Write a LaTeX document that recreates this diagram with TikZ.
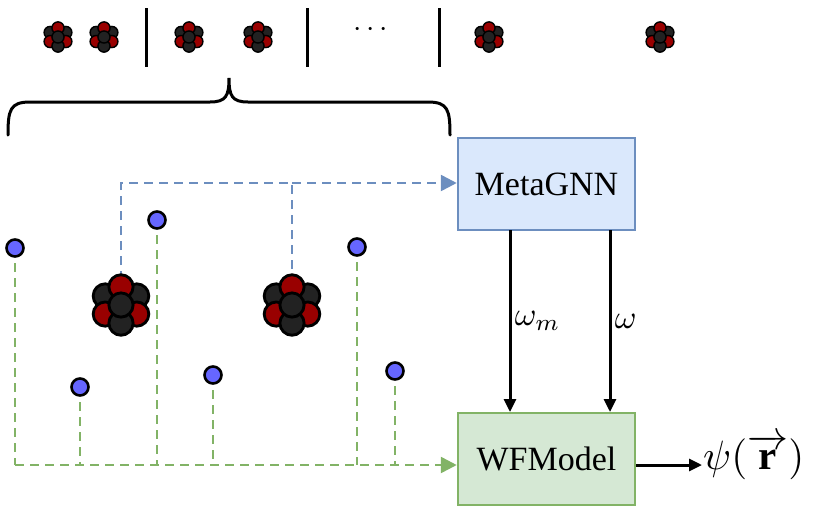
\documentclass[tikz,border=0pt]{standalone}
\usepackage{amsmath}
\usepackage{fontspec}
\setmainfont{Liberation Serif}
\usetikzlibrary{arrows.meta}
\definecolor{nred}{HTML}{990000}
\definecolor{nblk}{HTML}{222222}
\definecolor{bfill}{HTML}{DAE8FC}\definecolor{bline}{HTML}{6C8EBF}
\definecolor{gfill}{HTML}{D5E8D4}\definecolor{gline}{HTML}{82B366}
\definecolor{elec}{HTML}{6666FF}
\newcommand{\mybigmath}[1]{\scalebox{3.3}{$#1$}}
\tikzset{
 box/.style={draw=#1,line width=2.5pt,minimum width=177pt,minimum height=92pt,font=\fontsize{34}{40}\selectfont},
 elc/.style={circle,draw=black,line width=2.6pt,fill=elec,minimum size=17pt,inner sep=0},
 bdash/.style={bline,line width=2.6pt,dash pattern=on 9pt off 6pt},
 gdash/.style={gline,line width=2.6pt,dash pattern=on 9pt off 6pt},
 arr/.style={line width=3pt,-{Triangle[length=13pt,width=12pt]}},
 sep/.style={line width=3pt},
 pics/nuc/.style={code={
  \tikzset{nc/.style={circle,draw=black,line width=#1*0.26pt,minimum size=#1*2.2pt,inner sep=0}}
  \foreach \a/\c in {150/nblk,30/nblk,90/nred,210/nred,330/nred,270/nblk}
   \node[nc,fill=\c] at (\a:#1*1.65pt) {};
  \node[nc,fill=nblk] at (0,0) {};
 }}
}
\begin{document}
\begin{tikzpicture}[x=1pt,y=-1pt]
\useasboundingbox (0,0) rectangle (830,520);
% top row
\foreach \x in {58,104,189,258,489,660} \pic at (\x,37) {nuc=5.5};
\draw[sep] (146,8) -- (146,67);
\draw[sep] (307,8) -- (307,67);
\draw[sep] (439,8) -- (439,67);
\node (dots) at (373,30) {\scalebox{3}{$\cdots$}};
% brace
\draw[line width=3pt,line cap=round] (8,135) .. controls (8,110) and (10,102) .. (30,102) -- (210,102) .. controls (226,102) and (229,96) .. (229,78)
 .. controls (229,96) and (232,102) .. (248,102) -- (428,102) .. controls (448,102) and (450,110) .. (450,135);
% boxes
\node[box=bline,fill=bfill] (meta) at (546.5,184) {MetaGNN};
\node[box=gline,fill=gfill] (wf) at (546.5,459) {WFModel};
\draw[arr] (510,230) -- (510,412) node[midway,right=0pt] {\mybigmath{\omega_m}};
\draw[arr] (610,230) -- (610,412) node[midway,right=0pt] {\mybigmath{\omega}};
\node[anchor=west,inner sep=1pt] (psi) at (702,457) {\scalebox{4.1}{$\psi(\overrightarrow{\mathbf{r}})$}};
\draw[arr] (wf.east|-0,465) -- (psi.west|-0,465);
% blue dashed
\draw[bdash] (121,280) -- (121,183) -- (292,183) -- (292,280);
\draw[bdash,-{Triangle[length=16pt,width=16pt]}] (292,183) -- (meta.west|-0,183);
% electrons & green dashed
\foreach \x/\y [count=\i] in {15/248,157/220,80/387,213/375,357/247,395/371}{
 \draw[gdash] (\x,\y) -- (\x,465);
 \node[elc] (e\i) at (\x,\y) {};
}
\draw[gdash,-{Triangle[length=16pt,width=16pt]}] (15,465) -- (wf.west|-0,465);
% nuclei
\pic at (121,305) {nuc=11};
\pic at (292,305) {nuc=11};
\end{tikzpicture}
\end{document}
